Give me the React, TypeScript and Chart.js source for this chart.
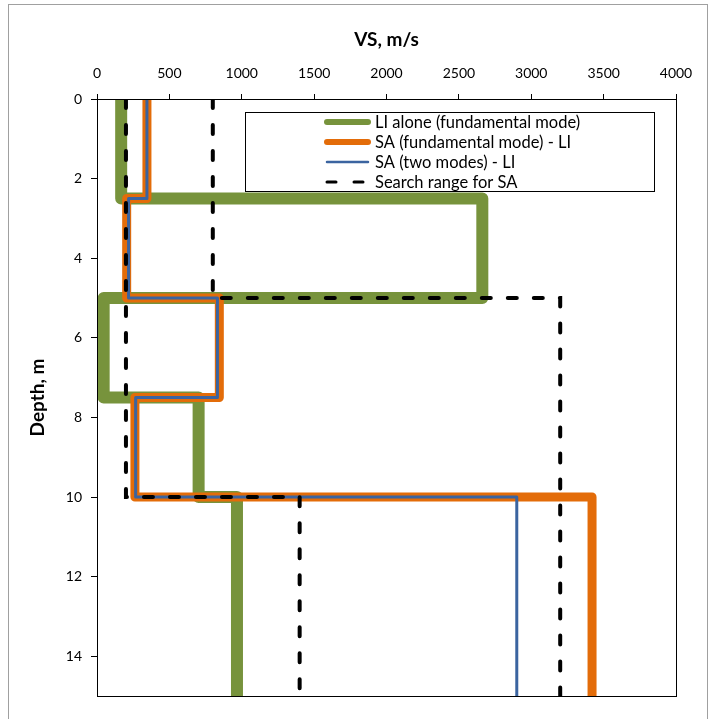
import React, { useEffect, useRef } from "react";
import { Chart, registerables } from "chart.js";

Chart.register(...registerables);

// ---- data ----
const layerTop = [0, 2.5, 5, 7.5, 10];
const layerBottom = [2.5, 5, 7.5, 10, 15];
const liAlone = [167, 2662, 46, 702, 967];
const saFundamental = [345, 205, 845, 262, 3420];
const saTwoModes = [345, 218, 832, 267, 2900];
const searchMin = [200, 200, 200, 200, 1400];
const searchMax = [800, 800, 3200, 3200, 3200];
const xTicks = [0, 500, 1000, 1500, 2000, 2500, 3000, 3500, 4000];
const yTicks = [0, 2, 4, 6, 8, 10, 12, 14];
const seriesLabels = [
  "LI alone (fundamental mode)",
  "SA (fundamental mode) - LI",
  "SA (two modes) - LI",
  "Search range for SA",
];
const xTitle = "VS, m/s";
const yTitle = "Depth, m";

const FONT = "Lato, 'Open Sans', sans-serif";

function stepProfile(values: number[]) {
  return values.flatMap((v, i) => [
    { x: v, y: layerTop[i] },
    { x: v, y: layerBottom[i] },
  ]);
}

const legendStyles = [
  { color: "#77933C", width: 6, dash: [] as number[] },
  { color: "#E36C09", width: 6, dash: [] as number[] },
  { color: "#3B64A0", width: 2.5, dash: [] as number[] },
  { color: "#000000", width: 3, dash: [9, 18] },
];

const decorPlugin = {
  id: "decor",
  beforeDraw(chart: any) {
    const ctx = chart.ctx;
    ctx.save();
    ctx.fillStyle = "#ffffff";
    ctx.fillRect(0, 0, chart.width, chart.height);
    ctx.strokeStyle = "#a0a0a0";
    ctx.lineWidth = 1;
    ctx.strokeRect(8.5, 4.5, 699, 740);
    ctx.restore();
  },
  afterDraw(chart: any) {
    const ctx = chart.ctx;
    const a = chart.chartArea;
    ctx.save();
    // plot frame
    ctx.strokeStyle = "#000";
    ctx.lineWidth = 1;
    ctx.strokeRect(Math.round(a.left) + 0.5, Math.round(a.top) + 0.5, Math.round(a.right - a.left), Math.round(a.bottom - a.top));
    // titles
    ctx.fillStyle = "#000";
    ctx.font = `bold 19px ${FONT}`;
    ctx.textAlign = "center";
    ctx.textBaseline = "middle";
    ctx.fillText(xTitle, (a.left + a.right) / 2, 40);
    ctx.save();
    ctx.translate(38, (a.top + a.bottom) / 2);
    ctx.rotate(-Math.PI / 2);
    ctx.fillText(yTitle, 0, 0);
    ctx.restore();
    // legend
    const bx = 245, by = 112, bw = 409, bh = 79;
    ctx.fillStyle = "#fff";
    ctx.fillRect(bx, by, bw, bh);
    ctx.strokeStyle = "#000";
    ctx.lineWidth = 1;
    ctx.strokeRect(bx + 0.5, by + 0.5, bw, bh);
    ctx.font = `16.5px ${FONT}`;
    ctx.textAlign = "left";
    seriesLabels.forEach((label, i) => {
      const y = 122 + i * 20;
      const st = legendStyles[i];
      ctx.beginPath();
      ctx.strokeStyle = st.color;
      ctx.lineWidth = st.width;
      ctx.lineCap = "round";
      ctx.setLineDash(st.dash);
      ctx.moveTo(327, y);
      ctx.lineTo(368, y);
      ctx.stroke();
      ctx.setLineDash([]);
      ctx.fillStyle = "#000";
      ctx.fillText(label, 375, y + 0.5);
    });
    ctx.restore();
  },
};

export default function App() {
  const ref = useRef<HTMLCanvasElement | null>(null);
  useEffect(() => {
    if (!ref.current) return;
    const common = { showLine: true, pointRadius: 0, borderJoinStyle: "round" as const, borderCapStyle: "round" as const, fill: false };
    const chart = new Chart(ref.current, {
      type: "scatter",
      data: {
        datasets: [
          { ...common, label: seriesLabels[0], data: stepProfile(liAlone), borderColor: "#77933C", borderWidth: 12, order: 4 },
          { ...common, label: seriesLabels[1], data: stepProfile(saFundamental), borderColor: "#E36C09", borderWidth: 9, order: 3 },
          { ...common, label: seriesLabels[2], data: stepProfile(saTwoModes), borderColor: "#3B64A0", borderWidth: 3, order: 2 },
          { ...common, label: seriesLabels[3], data: stepProfile(searchMin), borderColor: "#000", borderWidth: 4, borderDash: [9, 17], borderJoinStyle: "miter", order: 1 },
          { ...common, label: "", data: stepProfile(searchMax), borderColor: "#000", borderWidth: 4, borderDash: [9, 17], borderJoinStyle: "miter", order: 1 },
        ],
      },
      options: {
        animation: false,
        responsive: false,
        layout: { padding: { left: 0, top: 0, right: 34, bottom: 23 } },
        plugins: { legend: { display: false }, tooltip: { enabled: false } },
        scales: {
          x: {
            type: "linear",
            position: "top",
            min: 0,
            max: 4000,
            afterBuildTicks: (s: any) => { s.ticks = xTicks.map((v) => ({ value: v })); },
            afterFit: (s: any) => { s.height = 99; },
            ticks: { color: "#000", font: { family: FONT, size: 14 }, padding: 12, maxRotation: 0, callback: (v: any) => String(v) },
            grid: { drawOnChartArea: false, drawTicks: true, tickLength: 5, color: "#000" },
            border: { display: true, color: "#000", width: 1 },
          },
          y: {
            type: "linear",
            reverse: true,
            min: 0,
            max: 15,
            afterBuildTicks: (s: any) => { s.ticks = yTicks.map((v) => ({ value: v })); },
            afterFit: (s: any) => { s.width = 97; },
            ticks: { color: "#000", font: { family: FONT, size: 14 }, padding: 9, callback: (v: any) => String(v) },
            grid: { drawOnChartArea: false, drawTicks: true, tickLength: 6, color: "#000" },
            border: { display: true, color: "#000", width: 1 },
          },
        },
      },
      plugins: [decorPlugin],
    });
    return () => chart.destroy();
  }, []);
  return (
    <div style={{ position: "absolute", left: 0, top: 0, width: 710, height: 719 }}>
      <canvas ref={ref} width={710} height={719} style={{ display: "block", width: 710, height: 719 }} />
    </div>
  );
}
